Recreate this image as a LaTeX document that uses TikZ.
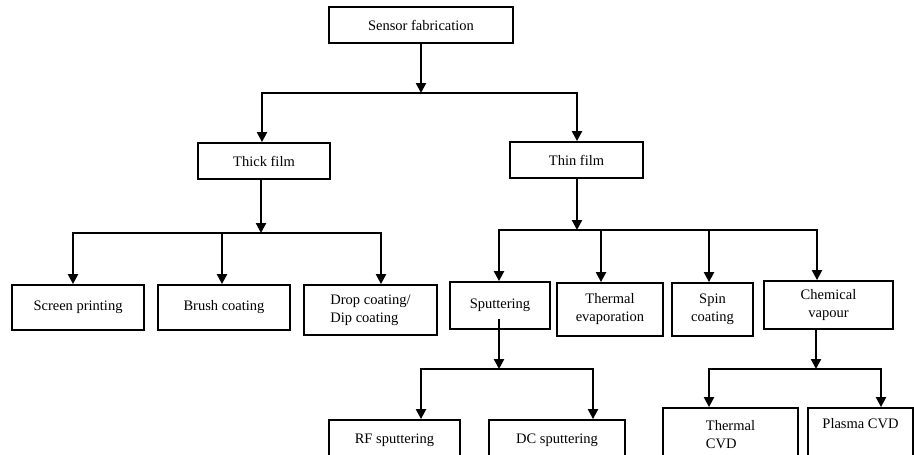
\documentclass[tikz,border=0pt]{standalone}
\usepackage{fontspec}
\setmainfont{Liberation Serif}
\usetikzlibrary{arrows.meta, positioning, calc}
\tikzstyle{block} = [rectangle, draw=black, line width=1.8pt, align=center, inner sep=2pt, font=\fontsize{14.5}{18}\selectfont]
\tikzstyle{arrow} = [-{Triangle[length=10pt, width=10pt]}, line width=2.2pt]
\tikzstyle{link} = [line width=2.2pt, line cap=rect]

\begin{document}
\begin{tikzpicture}[x=1pt, y=-1pt]
    \useasboundingbox (0,0) rectangle (914,455);
    \clip (0,0) rectangle (914,455);

    % Top level
    \node[block, minimum width=184pt, minimum height=36pt] (fab) at (421,25) {Sensor fabrication};
    \node[block, minimum width=132pt, minimum height=36pt] (thick) at (264,161) {Thick film};
    \node[block, minimum width=133pt, minimum height=36pt] (thin) at (576.5,160) {Thin film};

    % Thick film methods
    \node[block, minimum width=132pt, minimum height=45pt] (screen) at (78,307.5) {Screen printing};
    \node[block, minimum width=132pt, minimum height=45pt] (brush) at (224,307.5) {Brush coating};
    \node[block, align=left, minimum width=133pt, minimum height=50pt] (drop) at (370.5,310) {Drop coating/\\Dip coating};

    % Thin film methods
    \node[block, minimum width=100pt, minimum height=47pt] (sput) at (500,305.5) {Sputtering};
    \node[block, minimum width=106pt, minimum height=53pt] (thermev) at (610,309.5) {Thermal\\evaporation};
    \node[block, minimum width=81pt, minimum height=53pt] (spin) at (712.5,309.5) {Spin\\coating};
    \node[block, minimum width=129pt, minimum height=48pt] (chem) at (828.5,305) {Chemical\\vapour};

    % Sputtering and CVD variants
    \node[block, minimum width=131pt, minimum height=40pt] (rf) at (394.5,440) {RF sputtering};
    \node[block, minimum width=136pt, minimum height=40pt] (dc) at (557,440) {DC sputtering};
    \node[block, align=left, minimum width=135pt, minimum height=54pt] (tcvd) at (730.5,435) {Thermal\\CVD};
    \node[block, text depth=24pt, minimum width=105pt, minimum height=54pt] (pcvd) at (860.5,435) {Plasma CVD};

    % Junction points
    \coordinate (fabj) at (421,93);
    \coordinate (fabl) at (262,93);
    \coordinate (fabr) at (577,93);
    \coordinate (tkj) at (261,233);
    \coordinate (tkl) at (73,233);
    \coordinate (tkm) at (222,233);
    \coordinate (tkr) at (381,233);
    \coordinate (tnj) at (577,230);
    \coordinate (tnl) at (499,230);
    \coordinate (tnm) at (601,230);
    \coordinate (tnn) at (709,230);
    \coordinate (tnr) at (817,230);
    \coordinate (spj) at (499,369);
    \coordinate (spl) at (421,369);
    \coordinate (spr) at (593,369);
    \coordinate (chj) at (816,369);
    \coordinate (chl) at (709,369);
    \coordinate (chr) at (881,369);

    % Sensor fabrication
    \draw[arrow] (fab.south) -- (fabj);
    \draw[link] (fabl) -- (fabr);
    \draw[arrow] (fabl) -- (fabl |- thick.north);
    \draw[arrow] (fabr) -- (fabr |- thin.north);

    % Thick film
    \draw[arrow] (thick.south -| tkj) -- (tkj);
    \draw[link] (tkl) -- (tkr);
    \draw[arrow] (tkl) -- (tkl |- screen.north);
    \draw[arrow] (tkm) -- (tkm |- brush.north);
    \draw[arrow] (tkr) -- (tkr |- drop.north);

    % Thin film
    \draw[arrow] (thin.south -| tnj) -- (tnj);
    \draw[link] (tnl) -- (tnr);
    \draw[arrow] (tnl) -- (tnl |- sput.north);
    \draw[arrow] (tnm) -- (tnm |- thermev.north);
    \draw[arrow] (tnn) -- (tnn |- spin.north);
    \draw[arrow] (tnr) -- (tnr |- chem.north);

    % Sputtering
    \draw[arrow] ([yshift=11pt]sput.south -| spj) -- (spj);
    \draw[link] (spl) -- (spr);
    \draw[arrow] (spl) -- (spl |- rf.north);
    \draw[arrow] (spr) -- (spr |- dc.north);

    % Chemical vapour
    \draw[arrow] (chem.south -| chj) -- (chj);
    \draw[link] (chl) -- (chr);
    \draw[arrow] (chl) -- (chl |- tcvd.north);
    \draw[arrow] (chr) -- (chr |- pcvd.north);
\end{tikzpicture}
\end{document}
